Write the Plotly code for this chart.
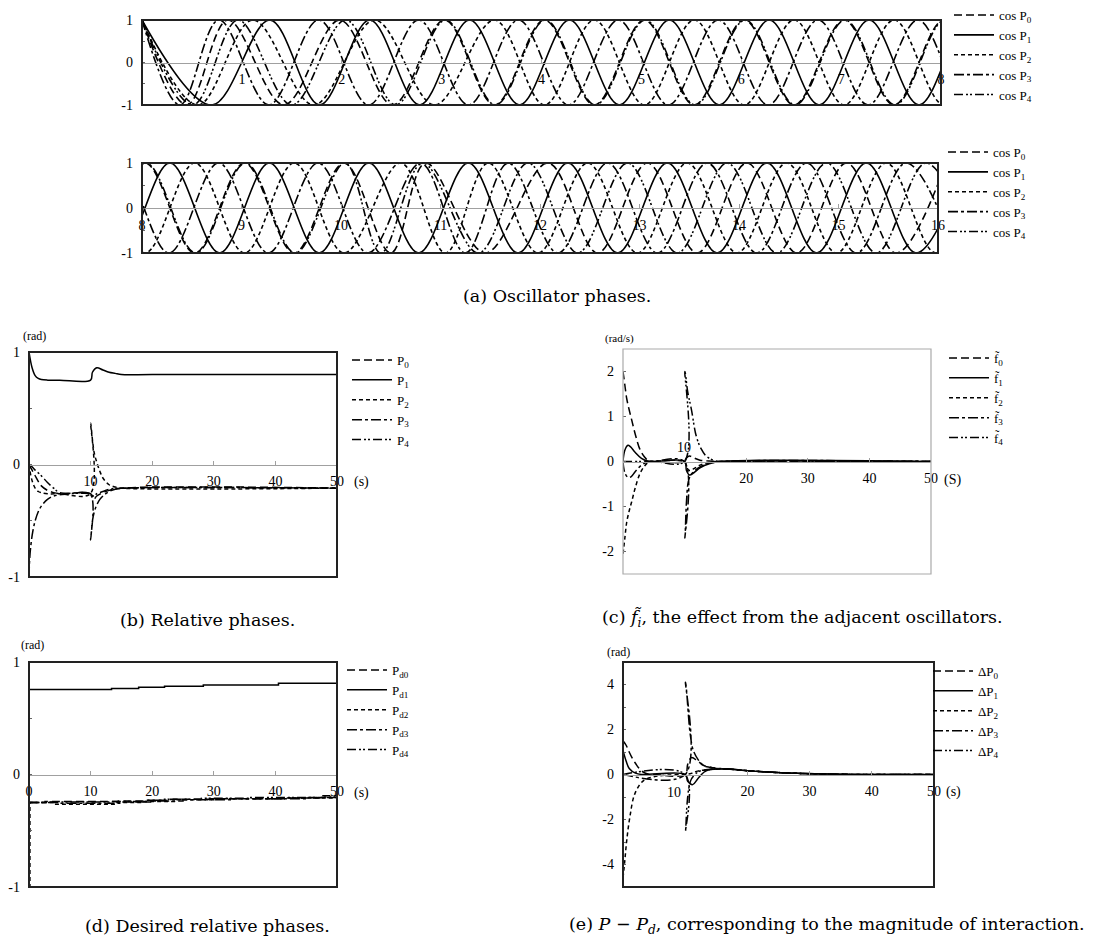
import plotly.graph_objects as go

# ---------------- data ----------------
# (a) oscillator phases: times of successive extrema of cos P_i and their values
cosP0_t = [0, 0.45, 0.86, 1.42, 1.98, 2.51, 3.03, 3.53, 4.03, 4.53, 5.03, 5.53, 6.03, 6.53, 7.03, 7.53,
           8.03, 8.53, 9.03, 9.53, 10.03, 10.50, 10.85, 11.45, 12.08, 12.58, 13.08, 13.58, 14.08, 14.58,
           15.08, 15.58, 16.08]
cosP0_v = [1, -1, 1, -1, 1, -1, 1, -1, 1, -1, 1, -1, 1, -1, 1, -1, 1, -1, 1, -1, 1, -1, 1, -1, 1, -1,
           1, -1, 1, -1, 1, -1, 1]
cosP1_t = [0, 0.70, 1.28, 1.78, 2.28, 2.78, 3.28, 3.78, 4.28, 4.78, 5.28, 5.78, 6.28, 6.78, 7.28, 7.78,
           8.28, 8.78, 9.28, 9.78, 10.28, 10.78, 11.28, 11.78, 12.28, 12.78, 13.28, 13.78, 14.28, 14.78,
           15.28, 15.78, 16.28]
cosP1_v = [1, -1, 1, -1, 1, -1, 1, -1, 1, -1, 1, -1, 1, -1, 1, -1, 1, -1, 1, -1, 1, -1, 1, -1, 1, -1,
           1, -1, 1, -1, 1, -1, 1]
cosP2_t = [0, 0.56, 1.11, 1.72, 2.33, 2.93, 3.53, 4.03, 4.53, 5.03, 5.53, 6.03, 6.53, 7.03, 7.53, 8.03,
           8.53, 9.03, 9.53, 10.03, 10.60, 11.05, 11.48, 11.98, 12.48, 12.98, 13.48, 13.98, 14.48, 14.98,
           15.48, 15.98, 16.48]
cosP2_v = [1, -1, 1, -1, 1, -1, 1, -1, 1, -1, 1, -1, 1, -1, 1, -1, 1, -1, 1, -1, 1, -1, 1, -1, 1, -1,
           1, -1, 1, -1, 1, -1, 1]
cosP3_t = [0, 0.38, 0.77, 1.27, 1.77, 2.27, 2.77, 3.27, 3.77, 4.27, 4.77, 5.27, 5.77, 6.27, 6.77, 7.27,
           7.77, 8.27, 8.77, 9.27, 9.77, 10.27, 10.80, 11.25, 11.68, 12.18, 12.68, 13.18, 13.68, 14.18,
           14.68, 15.18, 15.68, 16.18]
cosP3_v = [1, -1, 1, -1, 1, -1, 1, -1, 1, -1, 1, -1, 1, -1, 1, -1, 1, -1, 1, -1, 1, -1, 1, -1, 1, -1,
           1, -1, 1, -1, 1, -1, 1, -1]
cosP4_t = [0, 0.51, 0.96, 1.50, 2.04, 2.54, 3.04, 3.54, 4.04, 4.54, 5.04, 5.54, 6.04, 6.54, 7.04, 7.54,
           8.04, 8.54, 9.04, 9.54, 10.04, 10.40, 10.82, 11.38, 11.88, 12.38, 12.88, 13.38, 13.88, 14.38,
           14.88, 15.38, 15.88, 16.38]
cosP4_v = [1, -1, 1, -1, 1, -1, 1, -1, 1, -1, 1, -1, 1, -1, 1, -1, 1, -1, 1, -1, 1, -1, 1, -1, 1, -1,
           1, -1, 1, -1, 1, -1, 1, -1]

# (b) relative phases (rad)
P0_t = [0, 0.5, 1, 1.5, 2, 3, 4, 5, 10, 10.5, 11, 12, 13, 15, 50]
P0_v = [0, -0.05, -0.10, -0.15, -0.19, -0.23, -0.25, -0.26, -0.26, -0.31, -0.28, -0.25, -0.23, -0.21, -0.21]
P1_t = [0, 0.5, 1, 1.5, 2, 3, 5, 10, 10.3, 11, 12, 13, 14, 15, 20, 50]
P1_v = [1.0, 0.86, 0.79, 0.765, 0.755, 0.75, 0.75, 0.75, 0.82, 0.86, 0.84, 0.82, 0.81, 0.80, 0.80, 0.80]
P2_t = [0, 0.3, 0.6, 1, 1.5, 2, 3, 5, 9.95, 10.0, 10.3, 10.6, 11, 11.5, 12, 13, 14, 15, 50]
P2_v = [0, -0.10, -0.16, -0.21, -0.24, -0.25, -0.26, -0.26, -0.26, 0.37, 0.22, 0.10, 0.02, -0.06, -0.12,
        -0.18, -0.20, -0.21, -0.21]
P3_t = [0, 0.1, 0.3, 0.6, 1, 1.5, 2, 3, 4, 6, 9.95, 10, 10.3, 10.6, 11, 11.5, 12, 13, 14, 16, 50]
P3_v = [-1, -0.85, -0.72, -0.60, -0.50, -0.42, -0.37, -0.31, -0.28, -0.265, -0.265, -0.67, -0.50, -0.42,
        -0.36, -0.31, -0.28, -0.24, -0.22, -0.21, -0.21]
P4_t = [0, 0.5, 1, 2, 3, 4, 5, 10, 10.5, 11, 12, 13, 15, 50]
P4_v = [0, -0.02, -0.05, -0.10, -0.16, -0.21, -0.25, -0.26, -0.28, -0.26, -0.24, -0.22, -0.21, -0.21]

# (c) f~_i (rad/s)
f0_t = [0, 0.3, 0.6, 1.0, 1.4, 2.0, 2.75, 3.5, 4.1, 5, 10, 10.3, 10.8, 11.5, 12.5, 14, 16, 50]
f0_v = [2.0, 1.7, 1.4, 1.15, 0.93, 0.6, 0.27, 0.1, 0.02, 0, 0, 0.08, 0.12, 0.08, 0.03, 0.01, 0, 0]
f1_t = [0, 0.3, 0.8, 1.2, 2, 3, 4, 5, 10, 10.3, 10.8, 11.5, 12.5, 14, 16, 50]
f1_v = [0, 0.25, 0.36, 0.33, 0.2, 0.07, 0.01, 0, 0, -0.2, -0.3, -0.25, -0.14, -0.05, 0, 0]
f2_t = [0, 0.3, 0.6, 1.0, 1.4, 2.0, 2.75, 3.5, 4.1, 5, 10, 10.3, 10.8, 11.5, 12.5, 14, 16, 50]
f2_v = [-2.05, -1.7, -1.35, -1.1, -0.9, -0.58, -0.27, -0.1, -0.02, 0, 0, -0.12, -0.2, -0.16, -0.08, -0.02, 0, 0]
f3_t = [0, 0.3, 0.8, 1.3, 2, 3, 4, 5, 9.95, 10.05, 10.3, 10.6, 11, 11.5, 12.5, 14, 16, 50]
f3_v = [0, -0.25, -0.35, -0.34, -0.22, -0.08, -0.01, 0, 0, -1.7, -0.9, -0.45, -0.3, -0.22, -0.12, -0.04, 0, 0]
f4_t = [0, 5, 9.95, 10.05, 10.5, 11.1, 11.9, 12.7, 13.5, 14.3, 15.1, 16, 50]
f4_v = [0, 0, 0, 2.0, 1.55, 1.16, 0.56, 0.28, 0.12, 0.05, 0.01, 0, 0]

# (d) desired relative phases (rad)
Pd0_t = [0, 2.6, 14.5, 19, 23, 29.5, 42, 47.5, 50]
Pd0_v = [-0.25, -0.24, -0.235, -0.23, -0.22, -0.215, -0.21, -0.19, -0.19]
Pd1_t = [0, 13.4, 17.8, 22, 28.3, 40.5, 50]
Pd1_v = [0.755, 0.765, 0.775, 0.785, 0.795, 0.81, 0.81]
Pd2_t = [0, 0.15, 4, 14, 18.5, 24, 30, 41, 50]
Pd2_v = [-1.0, -0.25, -0.265, -0.25, -0.24, -0.225, -0.215, -0.21, -0.21]
Pd3_t = [0, 5, 15, 20, 25, 33, 45, 50]
Pd3_v = [-0.25, -0.255, -0.245, -0.235, -0.225, -0.215, -0.205, -0.205]
Pd4_t = [0, 3, 13, 19, 22, 28, 36, 48, 50]
Pd4_v = [-0.25, -0.245, -0.24, -0.228, -0.22, -0.212, -0.205, -0.2, -0.2]

# (e) P - Pd (rad)
dP0_t = [0, 0.5, 1, 1.4, 2, 2.5, 3.3, 4, 5, 10, 10.4, 11, 12, 13, 15, 17, 20, 24, 28, 35, 40, 50]
dP0_v = [1.5, 1.3, 1.0, 0.77, 0.5, 0.3, 0.1, 0.02, 0, 0, 0.45, 0.75, 0.6, 0.4, 0.27, 0.24, 0.17, 0.1, 0.05, 0.01, 0, 0]
dP1_t = [0, 0.5, 1, 2, 3, 10, 10.4, 11.2, 12, 13, 14, 17, 20, 24, 28, 35, 40, 50]
dP1_v = [1.07, 0.6, 0.27, 0.06, 0, 0, -0.3, -0.45, -0.2, 0.1, 0.22, 0.24, 0.17, 0.1, 0.05, 0.01, 0, 0]
dP2_t = [0, 0.3, 0.6, 1.1, 1.9, 3.3, 5, 7, 10, 11, 12, 14, 17, 20, 24, 28, 35, 40, 50]
dP2_v = [-4.6, -3.8, -2.93, -1.9, -0.86, -0.27, -0.1, -0.03, 0, 0.05, 0.15, 0.22, 0.24, 0.17, 0.1, 0.05, 0.01, 0, 0]
dP3_t = [0, 10, 10.05, 10.8, 11.3, 12.1, 12.9, 14, 15, 17, 20, 24, 28, 35, 40, 50]
dP3_v = [0, 0, 4.1, 1.8, 1.07, 0.65, 0.4, 0.32, 0.28, 0.24, 0.17, 0.1, 0.05, 0.01, 0, 0]
dP4_t = [0, 10, 10.05, 10.3, 10.6, 11, 12, 13, 15, 17, 20, 24, 28, 35, 40, 50]
dP4_v = [0, 0, -2.5, -1.3, -0.58, -0.2, 0.1, 0.2, 0.25, 0.24, 0.17, 0.1, 0.05, 0.01, 0, 0]

SERIF = "Liberation Serif"
CAPFONT = "DejaVu Serif"
# figure is slightly smaller than the window so the page's default 8px body margin fits
OX, OY = 8, 8
FW, FH = 1115 - 2 * OX, 947 - 2 * OY

dashes = ["8px,4px", "solid", "4px,3px", "10px,3px,3px,3px", "9px,3px,2px,2px,2px,3px"]

fig = go.Figure()

def pxx(a):
    return (a - OX) / FW

def pxy(b):
    return 1 - (b - OY) / FH

panels = [
    dict(xd=(142, 941), yd=(20, 105), xr=[0, 8], yr=[-1, 1],
         yv=[-1, -0.5, 0, 0.5, 1], yt=["-1", "", "0", "", "1"],
         xv=[1, 2, 3, 4, 5, 6, 7, 8], box="#222222"),
    dict(xd=(142, 938), yd=(163, 253), xr=[8, 16], yr=[-1, 1],
         yv=[-1, -0.5, 0, 0.5, 1], yt=["-1", "", "0", "", "1"],
         xv=[8, 9, 10, 11, 12, 13, 14, 15, 16], box="#222222"),
    dict(xd=(29, 337), yd=(352, 577), xr=[0, 50], yr=[-1, 1],
         yv=[-1, -0.5, 0, 0.5, 1], yt=["-1", "", "0", "", "1"],
         xv=[10, 20, 30, 40, 50], box="#222222"),
    dict(xd=(623, 931), yd=(349, 574), xr=[0, 50], yr=[-2.5, 2.5],
         yv=[-2, -1, 0, 1, 2], yt=["-2", "-1", "0", "1", "2"],
         xv=[20, 30, 40, 50], box="#aaaaaa"),
    dict(xd=(29, 337), yd=(662, 887), xr=[0, 50], yr=[-1, 1],
         yv=[-1, -0.5, 0, 0.5, 1], yt=["-1", "", "0", "", "1"],
         xv=[0, 10, 20, 30, 40, 50], box="#222222"),
    dict(xd=(623, 934), yd=(662, 887), xr=[0, 50], yr=[-5, 5],
         yv=[-4, -3, -2, -1, 0, 1, 2, 3, 4], yt=["-4", "", "-2", "", "0", "", "2", "", "4"],
         xv=[20, 30, 40, 50], box="#222222"),
]

shapes = []
for i, p in enumerate(panels):
    n = "" if i == 0 else str(i + 1)
    xdom = [pxx(p["xd"][0]), pxx(p["xd"][1])]
    ydom = [pxy(p["yd"][1]), pxy(p["yd"][0])]
    y0, y1 = ydom
    zero_pos = y0 + (y1 - y0) * (0 - p["yr"][0]) / (p["yr"][1] - p["yr"][0])
    fig.layout["xaxis" + n] = dict(
        domain=xdom, range=p["xr"], anchor="free", position=zero_pos,
        showline=True, linecolor="#a0a0a0", linewidth=1,
        ticks="inside", ticklen=4, tickcolor="#a0a0a0",
        tickvals=p["xv"], ticktext=[str(v) for v in p["xv"]],
        tickfont=dict(family=SERIF, size=14, color="black"),
        ticklabelstandoff=4, showgrid=False, zeroline=False, fixedrange=True,
        automargin=False)
    fig.layout["yaxis" + n] = dict(
        domain=ydom, range=p["yr"], anchor="x" + n, showline=False,
        ticks="inside", ticklen=3, tickcolor="#666666",
        tickvals=p["yv"], ticktext=p["yt"],
        tickfont=dict(family=SERIF, size=14, color="black"),
        ticklabelstandoff=8, showgrid=False, zeroline=False, fixedrange=True,
        automargin=False)
    shapes.append(dict(type="rect", xref="x" + n + " domain", yref="y" + n + " domain",
                       x0=0, x1=1, y0=0, y1=1,
                       line=dict(color=p["box"], width=2 if p["box"] != "#aaaaaa" else 1.2),
                       layer="above"))

def add(t, v, name, i, k, legend, shape="spline", width=1.5, color="black"):
    n = "" if i == 0 else str(i + 1)
    fig.add_trace(go.Scatter(
        x=t, y=v, mode="lines", name=name, legend=legend,
        xaxis="x" + n, yaxis="y" + n,
        line=dict(color=color, width=width, dash=dashes[k], shape=shape,
                  smoothing=1.0 if shape == "spline" else None)))

cos_t = [cosP0_t, cosP1_t, cosP2_t, cosP3_t, cosP4_t]
cos_v = [cosP0_v, cosP1_v, cosP2_v, cosP3_v, cosP4_v]
for k in range(5):
    add(cos_t[k], cos_v[k], f"cos P<sub>{k}</sub>", 0, k, "legend", width=1.6)
for k in range(5):
    add(cos_t[k], cos_v[k], f"cos P<sub>{k}</sub>", 1, k, "legend2", width=1.6)

rel_t = [P0_t, P1_t, P2_t, P3_t, P4_t]
rel_v = [P0_v, P1_v, P2_v, P3_v, P4_v]
for k in range(5):
    add(rel_t[k], rel_v[k], f"P<sub>{k}</sub>", 2, k, "legend3")

f_t = [f0_t, f1_t, f2_t, f3_t, f4_t]
f_v = [f0_v, f1_v, f2_v, f3_v, f4_v]
for k in range(5):
    add(f_t[k], f_v[k], f"f\u0303<sub>{k}</sub>", 3, k, "legend4")

pd_t = [Pd0_t, Pd1_t, Pd2_t, Pd3_t, Pd4_t]
pd_v = [Pd0_v, Pd1_v, Pd2_v, Pd3_v, Pd4_v]
for k in range(5):
    add(pd_t[k], pd_v[k], f"P<sub>d{k}</sub>", 4, k, "legend5", shape="hv")

dp_t = [dP0_t, dP1_t, dP2_t, dP3_t, dP4_t]
dp_v = [dP0_v, dP1_v, dP2_v, dP3_v, dP4_v]
for k in range(5):
    add(dp_t[k], dp_v[k], f"\u0394P<sub>{k}</sub>", 5, k, "legend6")

def leg(xpx, ypx):
    return dict(x=pxx(xpx), y=pxy(ypx), xanchor="left", yanchor="top",
                bgcolor="rgba(0,0,0,0)", borderwidth=0, tracegroupgap=0,
                font=dict(family=SERIF, size=13, color="black"), itemwidth=40)

fig.update_layout(
    legend=leg(949, 0), legend2=leg(943, 137),
    legend3=leg(347, 345), legend4=leg(944, 343),
    legend5=leg(342, 655), legend6=leg(928, 656))

ann = []
def text(x, y, s, size=12, font=SERIF, xanchor="center"):
    ann.append(dict(xref="paper", yref="paper", x=pxx(x), y=pxy(y), text=s, showarrow=False,
                    xanchor=xanchor, yanchor="middle", font=dict(family=font, size=size, color="black")))

text(34, 336, "(rad)", 12)
text(352, 482, "(s)", 14, xanchor="left")
text(619, 338, "(rad/s)", 11)
text(942, 480, "(S)", 14, xanchor="left")
text(32, 645, "(rad)", 12)
text(352, 793, "(s)", 14, xanchor="left")
text(618, 652, "(rad)", 12)
text(944, 792, "(s)", 14, xanchor="left")

# "10" labels placed above / shifted as in the original
ann.append(dict(xref="x4", yref="y4", x=9.9, y=0, yshift=14, text="10", showarrow=False,
                font=dict(family=SERIF, size=14, color="black")))
ann.append(dict(xref="x6", yref="y6", x=8.2, y=0, yshift=-18, text="10", showarrow=False,
                font=dict(family=SERIF, size=14, color="black")))

CAP = 17.5
text(557, 296, "(a) Oscillator phases.", CAP, CAPFONT)
text(207, 620, "(b) Relative phases.", CAP, CAPFONT)
text(802, 618, "(c) <i>f\u0303<sub>i</sub></i>, the effect from the adjacent oscillators.", CAP, CAPFONT)
text(207, 926, "(d) Desired relative phases.", CAP, CAPFONT)
text(826, 925, "(e) <i>P</i> \u2212 <i>P<sub>d</sub></i>, corresponding to the magnitude of interaction.", CAP, CAPFONT)

fig.update_layout(
    width=FW, height=FH, autosize=False,
    margin=dict(l=0, r=0, t=0, b=0, autoexpand=False),
    paper_bgcolor="white", plot_bgcolor="white",
    font=dict(family=SERIF, color="black"),
    shapes=shapes, annotations=ann)

fig.write_html("out.html", config={"displayModeBar": False})
